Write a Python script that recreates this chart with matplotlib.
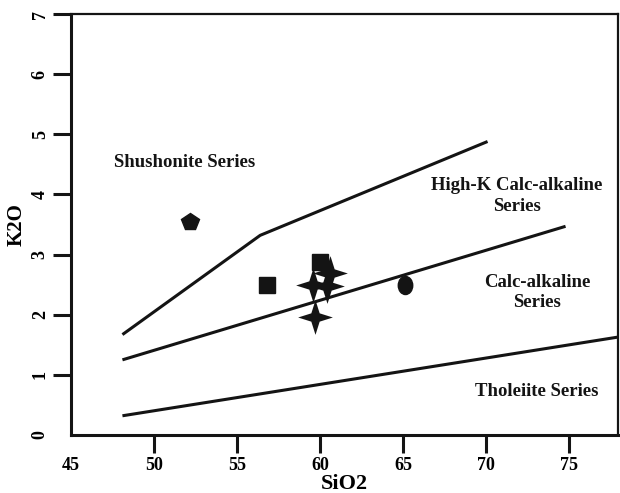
import matplotlib
matplotlib.use('Agg')
from matplotlib import pyplot as plt
from matplotlib.path import Path
from matplotlib.transforms import Affine2D

plt.rcParams['font.family'] = ['Liberation Serif', 'DejaVu Serif']
plt.rcParams['font.weight'] = 'bold'

ink = '#141414'

# Boundary lines (SiO2, K2O)
shosh_x = [48.1, 56.4, 70.1]
shosh_y = [1.67, 3.32, 4.88]
highk_x = [48.1, 74.8]
highk_y = [1.25, 3.47]
thol_x = [48.1, 78.0]
thol_y = [0.32, 1.63]

# Samples
pent_x, pent_y = [52.2], [3.55]
sq_x, sq_y = [56.8, 60.0], [2.50, 2.88]
circ_x, circ_y = [65.1], [2.50]
star_x = [59.6, 60.6, 60.4, 59.7]
star_y = [2.50, 2.70, 2.48, 1.97]

x_ticks = [45, 50, 55, 60, 65, 70, 75]
y_ticks = [0, 1, 2, 3, 4, 5, 6, 7]

# 4-point star marker with thin arms
r_in = 0.24
star_verts = [(1, 0), (r_in, r_in), (0, 1), (-r_in, r_in),
              (-1, 0), (-r_in, -r_in), (0, -1), (r_in, -r_in), (1, 0)]
ellipse = Path.unit_circle().transformed(Affine2D().scale(0.8, 1.0))

fig = plt.figure(figsize=(6.2, 4.93), dpi=100)
ax = fig.add_axes([0.1145, 0.1176, 0.882, 0.854])

for xs, ys in [(shosh_x, shosh_y), (highk_x, highk_y), (thol_x, thol_y)]:
    ax.plot(xs, ys, color=ink, lw=2.2, solid_capstyle='butt', zorder=2)

ax.plot(pent_x, pent_y, 'p', color=ink, ms=13, zorder=3)
ax.plot(sq_x, sq_y, 's', color=ink, ms=11.5, zorder=3)
ax.plot(circ_x, circ_y, marker=ellipse, ls='none', color=ink, ms=13, zorder=3)
ax.plot(star_x, star_y, marker=star_verts, ls='none', color=ink, mec='none', ms=25, zorder=4)

txt = dict(fontsize=13.5, fontweight='bold', color=ink, ha='center', va='center')
ax.text(51.87, 4.53, 'Shushonite Series', **txt)
ax.text(71.87, 3.97, 'High-K Calc-alkaline\nSeries', linespacing=1.3, **txt)
ax.text(73.07, 2.37, 'Calc-alkaline\nSeries', linespacing=1.3, **txt)
ax.text(73.07, 0.72, 'Tholeiite Series', **txt)

ax.set_xlim(45, 77.95)
ax.set_ylim(0, 7)
ax.set_xticks(x_ticks)
ax.set_yticks(y_ticks)
ax.set_xticklabels([str(t) for t in x_ticks], fontsize=13, fontweight='bold')
ax.set_yticklabels([str(t) for t in y_ticks], fontsize=13, fontweight='bold',
                   rotation=90, va='center')
ax.tick_params(direction='out', length=13, width=2.2, color=ink, pad=3)
ax.xaxis.get_major_ticks()[0].tick1line.set_visible(False)
ax.yaxis.get_major_ticks()[0].tick1line.set_visible(False)

for side in ['left', 'bottom']:
    ax.spines[side].set_linewidth(2.2)
for side in ['top', 'right']:
    ax.spines[side].set_linewidth(1.6)
for s in ax.spines.values():
    s.set_color(ink)

ax.set_xlabel('SiO2', fontsize=16, fontweight='bold', labelpad=0)
ax.set_ylabel('K2O', fontsize=15, fontweight='bold', labelpad=4)

fig.savefig('out.png', dpi=100)
